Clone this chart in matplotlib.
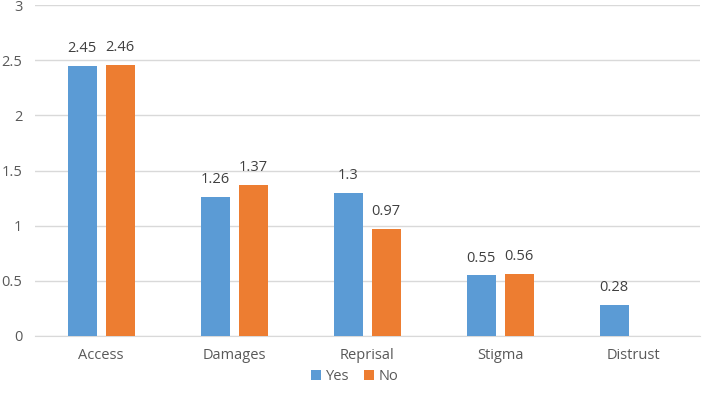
import numpy as np
import matplotlib.pyplot as plt

plt.rcParams['font.family'] = ['Open Sans', 'DejaVu Sans']

# values
categories = ['Access', 'Damages', 'Reprisal', 'Stigma', 'Distrust']
yes_vals = [2.45, 1.26, 1.30, 0.55, 0.28]
no_vals = [2.46, 1.37, 0.97, 0.56, np.nan]
yes_labels = ['2.45', '1.26', '1.3', '0.55', '0.28']
no_labels = ['2.46', '1.37', '0.97', '0.56', '']

blue = '#5B9BD5'
orange = '#ED7D31'
txt = '#595959'

fig = plt.figure(figsize=(7.09, 3.97), dpi=100)
ax = fig.add_axes([0.049, 0.154, 0.938, 0.833])

x = np.arange(len(categories))
w = 0.22
off = 0.143
b1 = ax.bar(x - off, yes_vals, w, color=blue, label='Yes', zorder=3)
b2 = ax.bar(x + off, no_vals, w, color=orange, label='No', zorder=3)

for bars, labs in ((b1, yes_labels), (b2, no_labels)):
    for b, lab in zip(bars, labs):
        h = b.get_height()
        if lab and not np.isnan(h):
            ax.annotate(lab, (b.get_x() + b.get_width() / 2, h),
                        xytext=(0, 7), textcoords='offset points',
                        ha='center', va='bottom', fontsize=10.5, color='#404040')

ax.set_xlim(-0.5, len(categories) - 0.5)
ax.set_ylim(0, 3)
ax.set_yticks(np.arange(0, 3.01, 0.5))
ax.set_yticklabels(['0', '0.5', '1', '1.5', '2', '2.5', '3'])
ax.set_xticks(x)
ax.set_xticklabels(categories)
ax.yaxis.grid(True, color='#D9D9D9', linewidth=1, zorder=0)
for s in ['top', 'right', 'left']:
    ax.spines[s].set_visible(False)
ax.spines['bottom'].set_color('#D9D9D9')
ax.tick_params(axis='both', length=0, colors=txt, labelsize=10.5)
ax.tick_params(axis='x', pad=9)
ax.tick_params(axis='y', pad=9)

fig.legend(loc='lower center', bbox_to_anchor=(0.5, 0.0), ncol=2, frameon=False,
           fontsize=10.5, handlelength=0.7, handleheight=0.7, columnspacing=1.0,
           handletextpad=0.3, labelcolor=txt)

fig.savefig('out.png', dpi=100)
